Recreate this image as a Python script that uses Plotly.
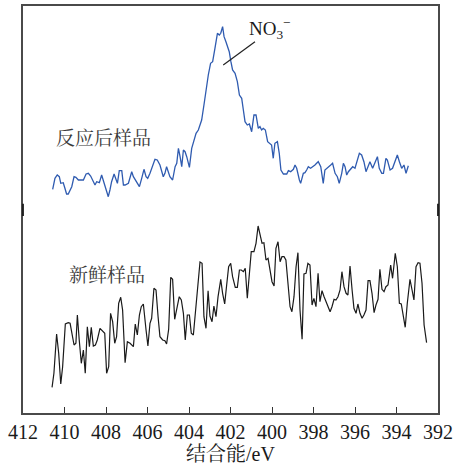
import plotly.graph_objects as go

# N 1s XPS spectra: binding energy (eV) and intensity (a.u., offset for display)
energy_after = [
    410.57, 410.46, 410.35, 410.25, 410.18, 410.06, 409.98, 409.90, 409.82, 409.73,
    409.65, 409.54, 409.45, 409.33, 409.17, 409.09, 408.96, 408.85, 408.74, 408.64,
    408.53, 408.45, 408.32, 408.21, 408.13, 408.00, 407.89, 407.81, 407.73, 407.61,
    407.52, 407.45, 407.36, 407.24, 407.16, 407.08, 406.92, 406.76, 406.68, 406.52,
    406.39, 406.28, 406.17, 406.07, 405.99, 405.88, 405.75, 405.64, 405.53, 405.40,
    405.24, 405.16, 405.08, 404.92, 404.79, 404.67, 404.59, 404.51, 404.43, 404.35,
    404.27, 404.19, 404.11, 403.98, 403.87, 403.79, 403.66, 403.55, 403.47, 403.39,
    403.28, 403.18, 403.07, 402.96, 402.86, 402.75, 402.63, 402.54, 402.47, 402.38,
    402.31, 402.22, 402.12, 402.06, 401.98, 401.90, 401.78, 401.67, 401.57, 401.46,
    401.38, 401.30, 401.19, 401.09, 400.98, 400.87, 400.77, 400.66, 400.58, 400.50,
    400.42, 400.32, 400.21, 400.13, 400.02, 399.94, 399.86, 399.74, 399.65, 399.57,
    399.45, 399.29, 399.21, 399.10, 398.97, 398.89, 398.81, 398.68, 398.62, 398.49,
    398.41, 398.33, 398.25, 398.14, 398.01, 397.93, 397.85, 397.77, 397.65, 397.53,
    397.45, 397.37, 397.29, 397.17, 397.08, 396.96, 396.85, 396.76, 396.64, 396.56,
    396.48, 396.40, 396.32, 396.24, 396.11, 396.00, 395.89, 395.79, 395.68, 395.57,
    395.47, 395.36, 395.28, 395.15, 395.04, 394.92, 394.83, 394.71, 394.63, 394.51,
    394.44, 394.31, 394.19, 394.07, 393.96, 393.86, 393.75, 393.64, 393.54, 393.43,
]
intensity_after = [
    223.7, 234.7, 238.0, 236.3, 229.7, 230.3, 224.7, 219.0, 219.0, 223.0,
    226.3, 236.3, 235.7, 233.0, 233.0, 233.0, 239.0, 239.7, 237.0, 233.0,
    228.0, 231.3, 230.3, 238.0, 233.0, 223.0, 216.3, 223.0, 231.3, 239.0,
    233.0, 229.7, 242.3, 242.3, 228.0, 228.0, 229.7, 241.3, 236.3, 231.3,
    226.3, 234.7, 243.7, 236.3, 234.7, 239.7, 246.3, 253.7, 253.0, 248.0,
    236.3, 239.7, 246.3, 236.3, 233.0, 246.3, 249.7, 264.7, 256.3, 246.3,
    263.0, 261.3, 256.3, 245.7, 264.7, 269.7, 279.7, 283.0, 288.0, 293.0,
    308.0, 323.0, 338.0, 349.7, 351.3, 364.7, 379.7, 378.0, 379.7, 386.3,
    376.3, 371.3, 364.7, 361.3, 351.3, 343.0, 339.7, 331.3, 318.0, 314.7,
    303.0, 291.3, 288.0, 289.0, 281.3, 298.0, 298.0, 284.7, 286.3, 283.0,
    284.7, 283.0, 271.3, 269.7, 268.0, 254.7, 269.7, 271.3, 259.7, 243.0,
    239.0, 239.0, 242.3, 241.3, 243.7, 248.0, 244.7, 233.0, 229.7, 239.7,
    240.3, 243.0, 246.3, 244.7, 246.3, 248.0, 249.7, 251.3, 246.3, 229.7,
    243.0, 244.7, 246.3, 248.0, 249.7, 239.7, 236.3, 229.7, 239.7, 249.7,
    246.3, 238.0, 241.3, 243.0, 246.3, 244.7, 253.0, 259.7, 258.0, 251.3,
    241.3, 246.3, 251.3, 244.7, 249.7, 256.3, 244.7, 239.7, 239.7, 254.7,
    253.0, 243.0, 244.7, 251.3, 258.0, 251.3, 244.7, 248.0, 239.7, 247.3,
]

energy_fresh = [
    410.60, 410.51, 410.38, 410.28, 410.18, 410.09, 409.96, 409.82, 409.73, 409.61,
    409.54, 409.45, 409.38, 409.29, 409.19, 409.09, 409.00, 408.90, 408.80, 408.71,
    408.61, 408.51, 408.42, 408.29, 408.16, 408.06, 407.97, 407.87, 407.78, 407.68,
    407.58, 407.49, 407.39, 407.29, 407.20, 407.08, 406.97, 406.84, 406.68, 406.59,
    406.49, 406.39, 406.30, 406.20, 406.07, 405.98, 405.88, 405.80, 405.69, 405.59,
    405.49, 405.40, 405.27, 405.16, 405.08, 404.98, 404.88, 404.79, 404.69, 404.59,
    404.47, 404.37, 404.27, 404.18, 404.08, 403.98, 403.89, 403.79, 403.66, 403.57,
    403.47, 403.37, 403.28, 403.18, 403.08, 402.99, 402.89, 402.80, 402.70, 402.60,
    402.47, 402.38, 402.28, 402.19, 402.09, 401.99, 401.90, 401.77, 401.67, 401.57,
    401.48, 401.38, 401.29, 401.19, 401.09, 401.00, 400.87, 400.77, 400.67, 400.58,
    400.48, 400.39, 400.29, 400.19, 400.10, 400.00, 399.90, 399.81, 399.71, 399.61,
    399.52, 399.42, 399.33, 399.23, 399.13, 399.04, 398.94, 398.84, 398.75, 398.65,
    398.55, 398.46, 398.36, 398.27, 398.17, 398.07, 397.98, 397.88, 397.78, 397.69,
    397.59, 397.49, 397.40, 397.30, 397.20, 397.11, 397.01, 396.92, 396.82, 396.72,
    396.63, 396.53, 396.43, 396.34, 396.24, 396.14, 396.05, 395.95, 395.86, 395.76,
    395.66, 395.57, 395.47, 395.37, 395.28, 395.18, 395.08, 394.99, 394.89, 394.80,
    394.70, 394.60, 394.51, 394.41, 394.28, 394.19, 394.06, 393.96, 393.86, 393.77,
    393.67, 393.58, 393.48, 393.35, 393.25, 393.16, 393.06, 392.96, 392.87, 392.77,
    392.67, 392.55,
]
intensity_fresh = [
    25.7, 39.7, 79.0, 59.7, 29.0, 46.3, 89.0, 90.3, 89.7, 76.3,
    68.0, 69.7, 98.0, 73.0, 49.7, 63.0, 39.7, 86.3, 66.3, 85.7,
    67.0, 68.0, 73.0, 84.7, 81.3, 79.7, 39.7, 46.3, 99.7, 91.3,
    69.7, 76.3, 109.7, 115.7, 103.0, 50.3, 71.3, 69.7, 66.3, 89.0,
    78.0, 98.0, 106.3, 109.0, 83.0, 67.0, 89.7, 94.7, 124.7, 123.0,
    96.3, 76.3, 73.0, 72.3, 69.0, 83.7, 135.7, 133.7, 93.7, 103.7,
    116.3, 113.0, 99.7, 73.0, 98.0, 98.0, 79.7, 78.0, 106.3, 133.0,
    151.0, 149.7, 96.3, 84.7, 122.3, 97.0, 91.3, 107.0, 96.3, 116.3,
    133.7, 119.7, 109.0, 127.0, 146.3, 149.7, 136.3, 125.7, 125.7, 143.0,
    143.0, 141.3, 144.7, 114.7, 135.7, 161.3, 161.3, 169.7, 187.0, 178.0,
    169.7, 170.3, 153.0, 154.7, 143.0, 131.3, 127.0, 164.7, 171.3, 151.3,
    156.3, 156.3, 153.0, 126.3, 106.3, 101.3, 116.3, 146.3, 160.3, 103.0,
    73.7, 139.0, 139.7, 149.7, 148.0, 108.0, 114.7, 106.3, 139.7, 111.3,
    122.3, 116.3, 111.3, 106.3, 101.3, 106.3, 113.7, 113.0, 116.3, 123.0,
    141.3, 126.3, 119.7, 118.0, 147.0, 123.0, 104.7, 99.7, 109.0, 99.7,
    94.7, 98.0, 103.0, 132.3, 132.3, 119.7, 100.3, 108.0, 113.7, 143.7,
    123.7, 121.3, 126.3, 128.0, 148.0, 134.7, 159.7, 146.3, 109.7, 109.0,
    96.3, 85.7, 109.7, 133.7, 123.0, 113.0, 146.3, 150.3, 149.7, 129.7,
    88.0, 70.3,
]

x_ticks = [412, 410, 408, 406, 404, 402, 400, 398, 396, 394, 392]
x_tick_text = [str(v) for v in x_ticks]

label_after = "反应后样品"
label_fresh = "新鲜样品"
label_peak = "NO<sub>3</sub><sup>−</sup>"
x_title = "结合能/eV"

serif = "Liberation Serif, Times New Roman, Noto Serif CJK SC, Noto Sans CJK SC, serif"

fig = go.Figure()
fig.add_trace(go.Scatter(
    x=energy_after, y=intensity_after, mode="lines",
    line=dict(color="#2f5bb0", width=1.3), showlegend=False, hoverinfo="skip",
))
fig.add_trace(go.Scatter(
    x=energy_fresh, y=intensity_fresh, mode="lines",
    line=dict(color="#1a1a1a", width=1.2), showlegend=False, hoverinfo="skip",
))

# Sample labels
fig.add_annotation(x=408.10, y=274.5, text=label_after, showarrow=False,
                   font=dict(family=serif, size=19, color="#3a3a3a"))
fig.add_annotation(x=407.95, y=138, text=label_fresh, showarrow=False,
                   font=dict(family=serif, size=19, color="#3a3a3a"))

# Peak assignment with leader line
fig.add_annotation(x=401.20, y=385, text=label_peak, showarrow=False,
                   xanchor="left", yanchor="middle",
                   font=dict(family=serif, size=19, color="#1a1a1a"))
fig.add_shape(type="line", x0=402.35, y0=348, x1=400.82, y1=371.3,
              line=dict(color="#222222", width=1.2))

# Darker stretch on the side borders between the two spectra
for xp in (0, 1):
    fig.add_shape(type="line", xref="paper", yref="paper",
                  x0=xp, x1=xp, y0=0.484, y1=0.514,
                  line=dict(color="#1a1a1a", width=1.8))

fig.update_layout(
    width=454, height=466,
    margin=dict(l=23, r=16, t=6, b=53, autoexpand=False),
    paper_bgcolor="white", plot_bgcolor="white",
    font=dict(family=serif, size=20, color="#1a1a1a"),
)
fig.update_xaxes(
    range=[412, 392], tickvals=x_ticks, ticktext=x_tick_text,
    ticks="inside", ticklen=6, tickwidth=1.2, tickcolor="#333333",
    showline=True, linecolor="#4a4a4a", linewidth=1.6, mirror=True,
    showgrid=False, zeroline=False, automargin=False,
    tickfont=dict(family=serif, size=20, color="#1a1a1a"),
    title=dict(text=x_title, font=dict(family=serif, size=20, color="#1a1a1a"),
               standoff=2),
)
fig.update_yaxes(
    range=[0, 407], showticklabels=False, ticks="",
    showline=True, linecolor="#4a4a4a", linewidth=1.6, mirror=True,
    showgrid=False, zeroline=False, automargin=False,
)

fig.write_html("out.html")
